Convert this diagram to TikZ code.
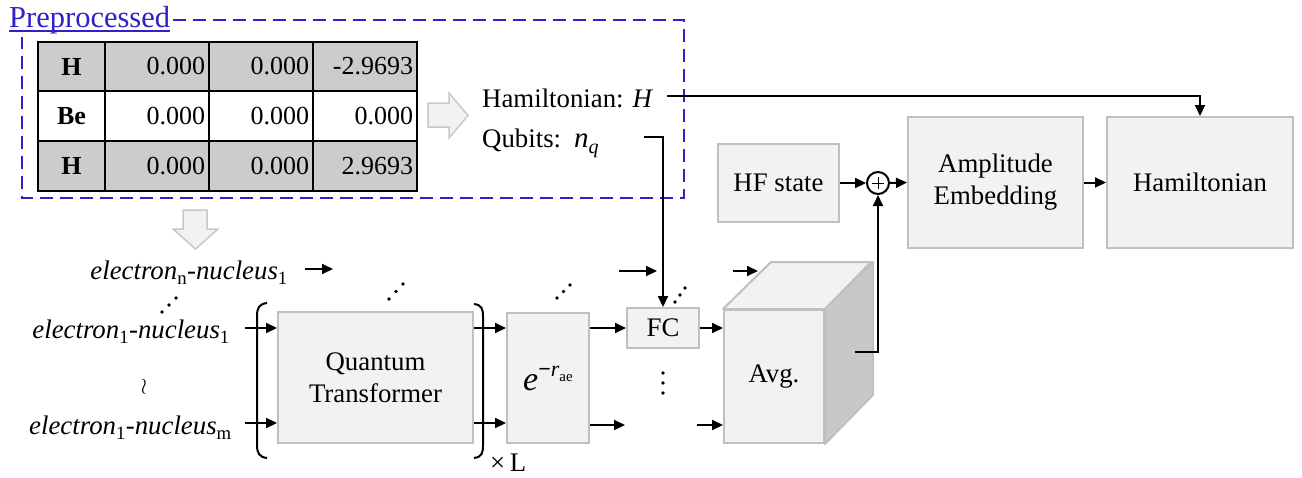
\documentclass[tikz,border=0pt]{standalone}
\usepackage{fontspec}
\setmainfont{Liberation Serif}
\usetikzlibrary{arrows.meta,calc}
\definecolor{boxfill}{HTML}{F2F2F2}
\definecolor{boxborder}{HTML}{C0C0C0}
\definecolor{tgray}{HTML}{CCCCCC}
\definecolor{preblue}{HTML}{3020C8}
\definecolor{sidegray}{HTML}{C8C8C8}
\begin{document}
\begin{tikzpicture}[x=1pt,y=-1pt,
  every node/.style={font=\fontsize{26.8}{32}\selectfont},
  box/.style={draw=boxborder, fill=boxfill, line width=2pt, inner sep=0pt, align=center},
  conn/.style={line width=2pt, -{Triangle[length=11pt,width=10pt]}},
  plain/.style={line width=2pt},
  cellbox/.style={draw=black, line width=2pt, minimum height=49.5, inner sep=0pt, font=\fontsize{26}{30}\selectfont},
  lcell/.style={cellbox, minimum width=67, font=\fontsize{26}{30}\selectfont\bfseries},
  ncell/.style={cellbox, text width=96, inner xsep=4pt, align=right},
  dot/.style={circle, fill=black, inner sep=0pt, minimum size=3.6pt},
  blockarrow/.style={fill=boxfill, draw=sidegray, line width=1.5pt},
  lbl/.style={inner sep=0pt, anchor=base east}
]
\useasboundingbox (0,0) rectangle (1302,477);

% ---- Preprocessed frame ----
\node[inner sep=0pt, anchor=base west, text=preblue, font=\fontsize{30.5}{36}\selectfont] (pre) at (9,27) {Preprocessed};
\draw[preblue, line width=1.5pt] ($(pre.base west)+(0,4)$) -- ($(pre.base east)+(0,4)$);
\draw[preblue, line width=2pt, dash pattern=on 13pt off 7pt]
  (173,20) -- (684,20) -- (684,198) -- (22,198) -- (22,37);

% ---- table ----
\node[lcell, fill=tgray] (r1c1) at (71.5,66.5) {H};
\node[ncell, fill=tgray] (r1c2) at (157,66.5) {0.000};
\node[ncell, fill=tgray] (r1c3) at (261,66.5) {0.000};
\node[ncell, fill=tgray] (r1c4) at (365,66.5) {-2.9693};
\node[lcell, fill=white, minimum height=50] (r2c1) at (71.5,116) {Be};
\node[ncell, fill=white, minimum height=50] (r2c2) at (157,116) {0.000};
\node[ncell, fill=white, minimum height=50] (r2c3) at (261,116) {0.000};
\node[ncell, fill=white, minimum height=50] (r2c4) at (365,116) {0.000};
\node[lcell, fill=tgray, minimum height=50] (r3c1) at (71.5,166) {H};
\node[ncell, fill=tgray, minimum height=50] (r3c2) at (157,166) {0.000};
\node[ncell, fill=tgray, minimum height=50] (r3c3) at (261,166) {0.000};
\node[ncell, fill=tgray, minimum height=50] (r3c4) at (365,166) {2.9693};

% ---- block arrows ----
\draw[blockarrow] (428,103) -- (449,103) -- (449,93) -- (468,115.5) -- (449,138) -- (449,127) -- (428,127) -- cycle;
\draw[blockarrow] (183,210) -- (207,210) -- (207,229) -- (218,229) -- (195.5,249) -- (173,229) -- (183,229) -- cycle;

% ---- Hamiltonian / Qubits labels ----
\node[inner sep=0pt, anchor=base west] (hl) at (482,107) {Hamiltonian: \textit{H}};
\node[inner sep=0pt, anchor=base west] (ql) at (482,147) {Qubits:\hspace{4pt} {\fontsize{29}{32}\selectfont\textit{n}}\raisebox{-6pt}{\fontsize{20}{22}\selectfont\textit{q}}};

% ---- left labels ----
\node[lbl] (l1) at (288,279) {\textit{electron}\raisebox{-2pt}{\textsubscript{n}}\textit{-nucleus}\raisebox{-2pt}{\textsubscript{1}}};
\node[lbl] (l2) at (230,338) {\textit{electron}\raisebox{-2pt}{\textsubscript{1}}\textit{-nucleus}\raisebox{-2pt}{\textsubscript{1}}};
\node[lbl] (l3) at (232,434) {\textit{electron}\raisebox{-2pt}{\textsubscript{1}}\textit{-nucleus}\raisebox{-2pt}{\textsubscript{m}}};
\node[inner sep=0pt] (wr) at (144,387) {\scalebox{0.9}{$\wr$}};

% ---- main blocks ----
\node[box, minimum width=195, minimum height=131] (qt) at (375.5,377.5) {Quantum\\Transformer};
\node[box, minimum width=82, minimum height=130] (ex) at (548,378)
  {{\fontsize{34}{40}\selectfont\textit{e}}\raisebox{14pt}{\fontsize{22}{26}\selectfont\textbf{−}\textit{r}\raisebox{-5pt}{\fontsize{15}{18}\selectfont ae}}};
\node[box, minimum width=72, minimum height=40] (fc) at (663,328) {FC};
\node[box, minimum width=100, minimum height=133] (avg) at (774,376.5) {Avg.};
\draw[fill=boxfill, draw=boxborder, line width=2pt, line join=round]
  (avg.north west) -- ++(48,-47) -- ++(100,0) -- (avg.north east) -- cycle;
\draw[fill=sidegray, draw=boxborder, line width=2pt, line join=round]
  (avg.north east) -- ++(48,-47) -- ++(0,133) -- (avg.south east) -- cycle;

\node[box, minimum width=121, minimum height=78] (hf) at (778.5,183) {HF state};
\node[circle, draw=black, line width=2pt, minimum size=22pt, inner sep=0pt] (op) at (878,183) {};
\draw[line width=0.9pt] ($(op.center)+(-6,0)$) -- ($(op.center)+(6,0)$);
\draw[line width=0.9pt] ($(op.center)+(0,-6)$) -- ($(op.center)+(0,6)$);
\node[box, minimum width=175, minimum height=131] (ae) at (995.5,182.5) {Amplitude\\Embedding};
\node[box, minimum width=186, minimum height=131] (ham) at (1200,182.5) {Hamiltonian};

% ---- parentheses ----
\draw[plain] (267,303) .. controls (259,304) and (257,308) .. (257,316) -- (257,445) .. controls (257,453) and (259,457) .. (267,458);
\draw[plain] (474,304) .. controls (482,305) and (483,309) .. (483,317) -- (483,445) .. controls (483,453) and (482,457) .. (474,458);
\node[inner sep=0pt, anchor=west] (xl) at (490,463) {×\,L};

% ---- dots ----
\foreach \x/\y [count=\i] in {162/312,169/305,176/298, 389/299,396/291.5,403/284, 557/298,563.5/291.5,570/285, 675/302,680/295,685/288, 663/373,663/383,663/393}
  \node[dot] (d\i) at (\x,\y) {};

% ---- connectors ----
\coordinate (t0) at (305,269);
\coordinate (t0e) at (333,269);
\draw[conn] (t0) -- (t0e);
\coordinate (t1) at (619,271);
\coordinate (t2) at (657,271);
\draw[conn] (t1) -- (t2);
\coordinate (t3) at (733,271);
\coordinate (t4) at (758,271);
\draw[conn] (t3) -- (t4);

\coordinate (a1) at (245,328);
\coordinate (a2) at (245,423);
\draw[conn] (a1) -- (a1 -| qt.west);
\draw[conn] (a2) -- (a2 -| qt.west);
\draw[conn] (qt.east |- a1) -- (ex.west |- a1);
\draw[conn] (qt.east |- a2) -- (ex.west |- a2);
\draw[conn] (ex.east |- fc.west) -- (fc.west);
\coordinate (c2) at (625,425);
\draw[conn] (ex.east |- c2) -- (c2);
\coordinate (d2) at (697,425);
\draw[conn] (d2) -- (d2 -| avg.west);
\draw[conn] (fc.east) -- (fc.east -| avg.west);

\coordinate (q0) at (644,137);
\draw[conn] (q0) -- (q0 -| fc.north) -- (fc.north);
\coordinate (h0) at (667,96);
\draw[conn] (h0) -- (h0 -| ham.north) -- (ham.north);

\draw[conn] (hf.east) -- (op.west);
\draw[conn] (op.east) -- (ae.west);
\draw[conn] (ae.east) -- (ham.west);
\coordinate (k0) at (855,352);
\draw[conn] (k0) -- (k0 -| op.south) -- (op.south);
\end{tikzpicture}
\end{document}
